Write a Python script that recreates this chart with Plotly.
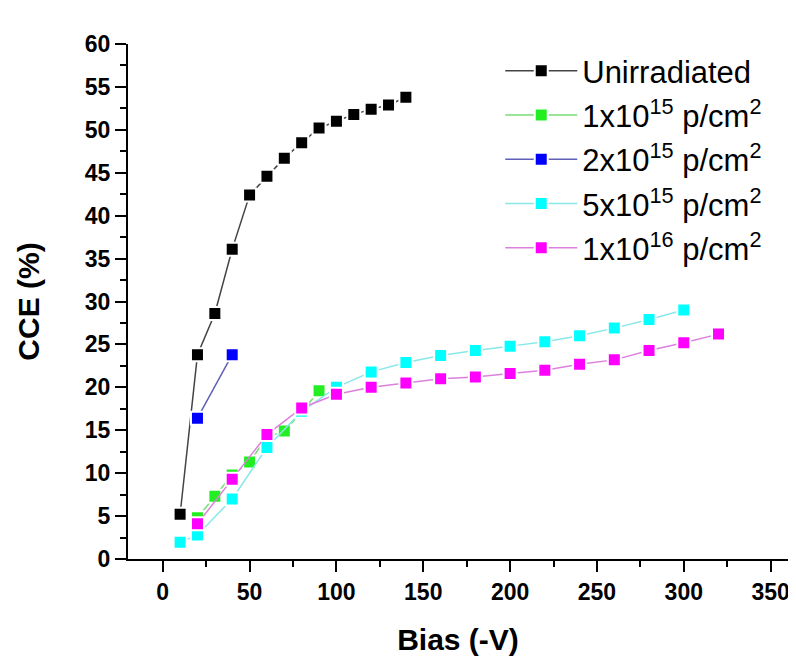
import plotly.graph_objects as go

# Data (Bias in -V, CCE in %)
unirr_x = [10, 20, 30, 40, 50, 60, 70, 80, 90, 100, 110, 120, 130, 140]
unirr_y = [5.2, 23.8, 28.6, 36.1, 42.4, 44.6, 46.7, 48.5, 50.2, 51.0, 51.8, 52.4, 52.9, 53.8]

f1e15_x = [20, 30, 40, 50, 60, 70, 80, 90]
f1e15_y = [4.8, 7.3, 9.8, 11.3, 14.2, 14.9, 17.1, 19.6]

f2e15_x = [20, 40]
f2e15_y = [16.4, 23.8]

f5e15_x = [10, 20, 40, 60, 80, 100, 120, 140, 160, 180, 200, 220, 240, 260, 280, 300]
f5e15_y = [1.95, 2.8, 7.0, 13.0, 17.2, 20.0, 21.8, 22.9, 23.7, 24.3, 24.8, 25.3, 26.0, 26.9, 27.9, 29.0]

f1e16_x = [20, 40, 60, 80, 100, 120, 140, 160, 180, 200, 220, 240, 260, 280, 300, 320]
f1e16_y = [4.1, 9.3, 14.5, 17.6, 19.2, 20.0, 20.5, 21.0, 21.2, 21.6, 22.0, 22.7, 23.2, 24.3, 25.2, 26.2]

names = ["Unirradiated",
         "1x10<sup>15</sup> p/cm<sup>2</sup>",
         "2x10<sup>15</sup> p/cm<sup>2</sup>",
         "5x10<sup>15</sup> p/cm<sup>2</sup>",
         "1x10<sup>16</sup> p/cm<sup>2</sup>"]
xs = [unirr_x, f1e15_x, f2e15_x, f5e15_x, f1e16_x]
ys = [unirr_y, f1e15_y, f2e15_y, f5e15_y, f1e16_y]
marker_colors = ["#000000", "#22ee22", "#0000ff", "#00ffff", "#ff00ff"]
line_colors = ["#444444", "#77dd77", "#6060b8", "#88e8e8", "#dd80dd"]

fig = go.Figure()
for i, (n, x, y, mc, lc) in enumerate(zip(names, xs, ys, marker_colors, line_colors)):
    fig.add_trace(go.Scatter(
        x=x, y=y, name=n, mode="lines+markers", legendgroup=f"g{i}",
        line=dict(color=lc, width=1.5),
        marker=dict(symbol="square", size=13, color=mc, line=dict(width=2, color="white")),
    ))

FONT = "Liberation Sans, Arial"
axis_font = dict(family=FONT, size=23, color="black", weight="bold")
title_font = dict(family=FONT, size=30, color="black", weight="bold")

# the page body adds an 8px offset; margins compensate for it
fig.update_layout(
    width=796, height=662,
    margin=dict(l=120, r=16, t=36, b=111),
    paper_bgcolor="white", plot_bgcolor="white",
    font=dict(family=FONT, color="black"),
    showlegend=True,
    legend=dict(
        x=0.564, y=1.0, xanchor="left", yanchor="top",
        font=dict(family=FONT, size=31, color="black"),
        bgcolor="rgba(0,0,0,0)", itemwidth=72, tracegroupgap=1,
    ),
    xaxis=dict(
        range=[-20, 360], tickmode="array", tickvals=[0, 50, 100, 150, 200, 250, 300, 350],
        ticks="outside", ticklen=11, tickwidth=2, tickcolor="black",
        showline=True, linewidth=2, linecolor="black",
        showgrid=False, zeroline=False, tickfont=axis_font, ticklabelstandoff=0,
        minor=dict(dtick=25, tick0=0, ticks="outside", ticklen=6, tickwidth=2, tickcolor="black", showgrid=False),
        title=dict(text="Bias (-V)", font=title_font, standoff=25),
    ),
    yaxis=dict(
        range=[0, 60], dtick=5, tick0=0,
        ticks="outside", ticklen=11, tickwidth=2, tickcolor="black",
        showline=True, linewidth=2, linecolor="black",
        showgrid=False, zeroline=False, tickfont=axis_font,
        minor=dict(dtick=2.5, tick0=0, ticks="outside", ticklen=6, tickwidth=2, tickcolor="black", showgrid=False),
        title=dict(text="CCE (%)", font=title_font, standoff=36),
    ),
)

fig.write_html("out.html")
